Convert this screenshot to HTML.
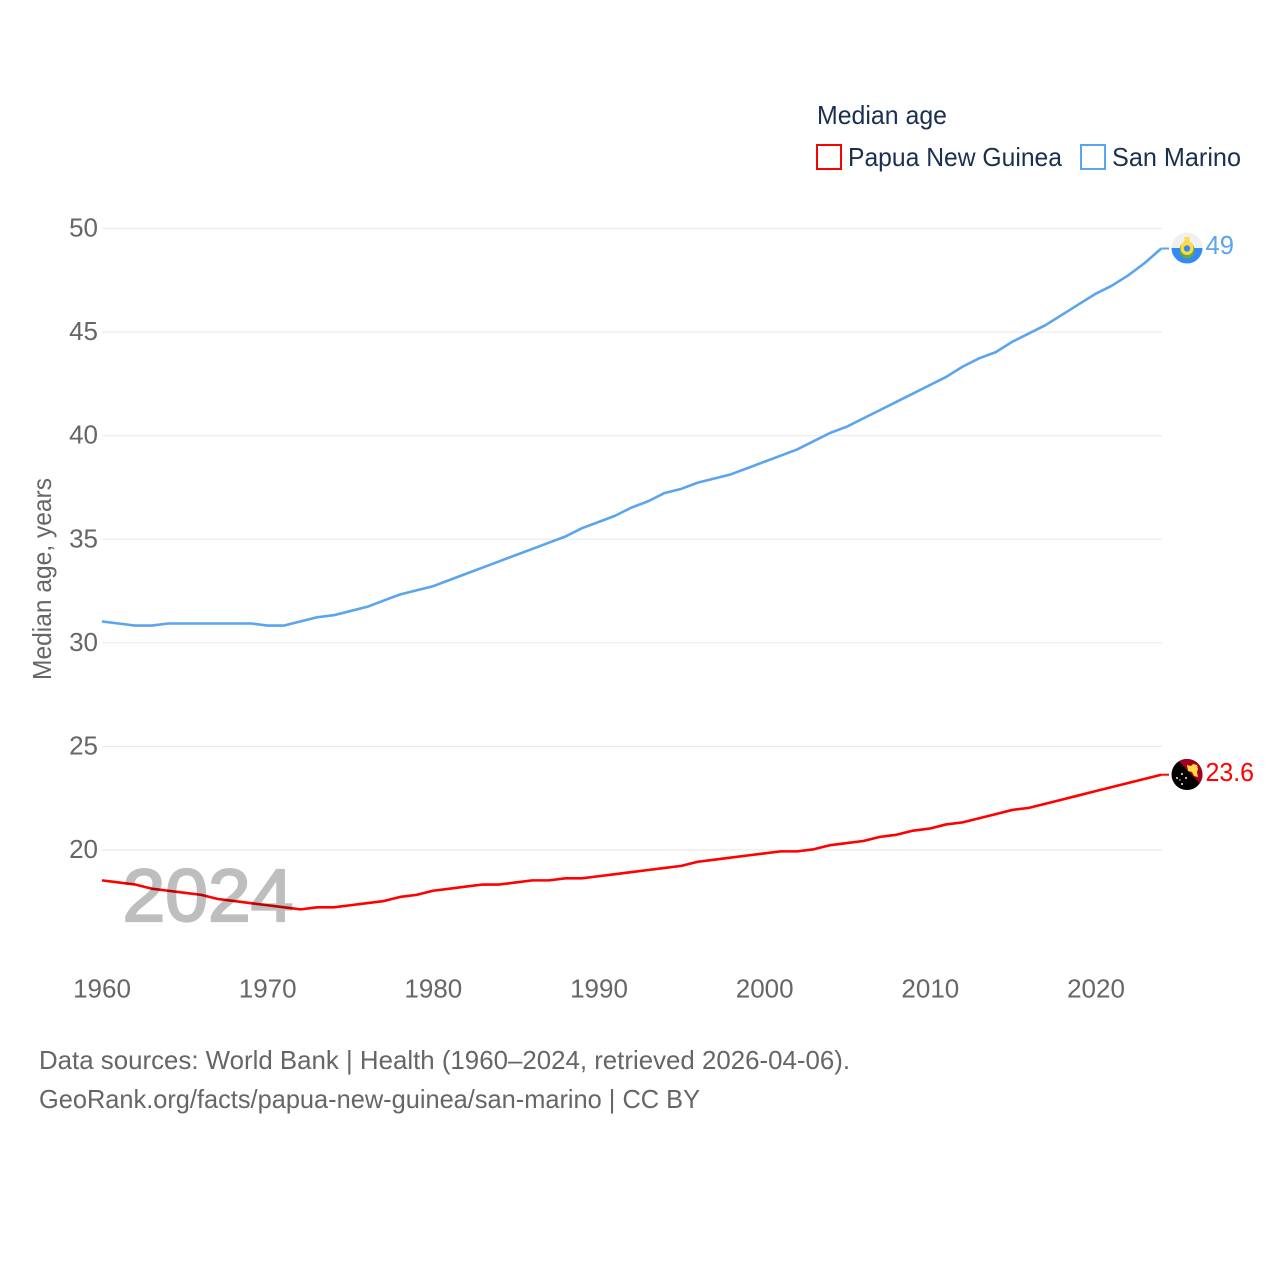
<!DOCTYPE html>
<html lang="en">
<head>
<meta charset="utf-8">
<title>Median age: Papua New Guinea and San Marino</title>
<style>
html,body{margin:0;padding:0;background:#fff;width:1280px;height:1280px;overflow:hidden}
svg{display:block}
text{font-family:"Liberation Sans",sans-serif}
.tick{font-size:26px;fill:#666}
.legend{font-size:26px;fill:#1a3050}
.foot{font-size:26px;fill:#666}
</style>
</head>
<body>
<svg id="chart" xmlns="http://www.w3.org/2000/svg" width="1280" height="1280" viewBox="0 0 1280 1280">
  <g id="grid"></g>
  <g id="yticks"></g>
  <g id="xticks"></g>
  <text transform="translate(51,680) rotate(-90)" font-size="26" fill="#666" textLength="202" lengthAdjust="spacingAndGlyphs">Median age, years</text>

  <g id="series"></g>

  <text x="122.5" y="921" font-size="74" fill="#000" stroke="#000" stroke-width="2.2" opacity="0.25" textLength="171" lengthAdjust="spacingAndGlyphs">2024</text>

  <text class="legend" x="817" y="124" textLength="130" lengthAdjust="spacingAndGlyphs">Median age</text>
  <g>
    <rect x="817" y="145" width="24" height="24" fill="#fff" stroke="#ff0000" stroke-width="2"/>
    <text class="legend" x="848" y="166" textLength="214" lengthAdjust="spacingAndGlyphs">Papua New Guinea</text>
  </g>
  <g>
    <rect x="1081" y="145" width="24" height="24" fill="#fff" stroke="#5ba4ee" stroke-width="2"/>
    <text class="legend" x="1112" y="166" textLength="129" lengthAdjust="spacingAndGlyphs">San Marino</text>
  </g>

  <defs>
    <clipPath id="clip-sm"><circle cx="1187" cy="248" r="15.5"/></clipPath>
    <clipPath id="clip-pg"><circle cx="1187" cy="774.5" r="15.5"/></clipPath>
  </defs>
  <g clip-path="url(#clip-sm)">
    <rect x="1171" y="232" width="32" height="16" fill="#f0f0f0"/>
    <rect x="1171" y="248" width="32" height="16" fill="#338af3"/>
    <ellipse cx="1187" cy="250" rx="7.5" ry="8.5" fill="#6da544"/>
    <ellipse cx="1187" cy="248" rx="6.5" ry="7" fill="#ffda44"/>
    <circle cx="1187" cy="248.5" r="3.2" fill="#338af3"/>
    <rect x="1184.5" y="237" width="5" height="5" fill="#ffda44"/>
  </g>
  <g clip-path="url(#clip-pg)">
    <rect x="1171" y="758" width="32" height="33" fill="#000"/>
    <polygon points="1176,758 1204,758 1204,788" fill="#a2001d"/>
    <polygon points="1187,765 1191,766 1193,764 1197,765 1198,769 1197,772 1198,777 1194,776 1192,772 1188,771" fill="#ffda44"/>
    <circle cx="1182" cy="774" r="1" fill="#f0f0f0"/>
    <circle cx="1177" cy="778" r="1" fill="#f0f0f0"/>
    <circle cx="1186" cy="778" r="1" fill="#f0f0f0"/>
    <circle cx="1182" cy="784" r="1" fill="#f0f0f0"/>
    <circle cx="1180" cy="780" r="0.7" fill="#f0f0f0"/>
  </g>

  <text id="label-sm" x="1205.5" y="254" font-size="26" fill="#5ba4ee" textLength="28.5" lengthAdjust="spacingAndGlyphs"></text>
  <text id="label-pg" x="1205.5" y="781" font-size="26" fill="#ff0000" textLength="48.5" lengthAdjust="spacingAndGlyphs"></text>

  <text class="foot" x="39" y="1069" textLength="811" lengthAdjust="spacingAndGlyphs">Data sources: World Bank | Health (1960–2024, retrieved 2026-04-06).</text>
  <text class="foot" x="39" y="1108" textLength="661" lengthAdjust="spacingAndGlyphs">GeoRank.org/facts/papua-new-guinea/san-marino | CC BY</text>
</svg>

<script>
const startYear = 1960;
const xTickYears = [1960, 1970, 1980, 1990, 2000, 2010, 2020];
const yTickValues = [20, 25, 30, 35, 40, 45, 50];
const papuaNewGuinea = [18.5,18.4,18.3,18.1,18.0,17.9,17.8,17.6,17.5,17.4,17.3,17.2,17.1,17.2,17.2,17.3,17.4,17.5,17.7,17.8,18.0,18.1,18.2,18.3,18.3,18.4,18.5,18.5,18.6,18.6,18.7,18.8,18.9,19.0,19.1,19.2,19.4,19.5,19.6,19.7,19.8,19.9,19.9,20.0,20.2,20.3,20.4,20.6,20.7,20.9,21.0,21.2,21.3,21.5,21.7,21.9,22.0,22.2,22.4,22.6,22.8,23.0,23.2,23.4,23.6];
const sanMarino = [31.0,30.9,30.8,30.8,30.9,30.9,30.9,30.9,30.9,30.9,30.8,30.8,31.0,31.2,31.3,31.5,31.7,32.0,32.3,32.5,32.7,33.0,33.3,33.6,33.9,34.2,34.5,34.8,35.1,35.5,35.8,36.1,36.5,36.8,37.2,37.4,37.7,37.9,38.1,38.4,38.7,39.0,39.3,39.7,40.1,40.4,40.8,41.2,41.6,42.0,42.4,42.8,43.3,43.7,44.0,44.5,44.9,45.3,45.8,46.3,46.8,47.2,47.7,48.3,49.0];
const papuaEndLabel = "23.6";
const sanMarinoEndLabel = "49";

const NS = "http://www.w3.org/2000/svg";
function xScale(year) { return 102 + (year - 1960) * (1096 - 102) / 60; }
function yScale(value) { return 850 - (value - 20) * (850 - 228.5) / 30; }
function lineX(year) { return xScale(year) - (year - 1960) * 1 / 64; }
function lineY(value) { return yScale(value) - 0.7; }

const gridGroup = document.getElementById("grid");
const yGroup = document.getElementById("yticks");
yTickValues.forEach(function (v) {
  const line = document.createElementNS(NS, "line");
  
  
  line.setAttribute("x1", 102);
  line.setAttribute("x2", 1162);
  line.setAttribute("y1", yScale(v));
  line.setAttribute("y2", yScale(v));
  line.setAttribute("stroke", "#ebebeb");
  line.setAttribute("stroke-width", 1.2);
  gridGroup.appendChild(line);

  const label = document.createElementNS(NS, "text");
  
  
  label.setAttribute("class", "tick");
  label.setAttribute("x", 98);
  label.setAttribute("y", yScale(v) + 8);
  label.setAttribute("text-anchor", "end");
  label.textContent = String(v);
  yGroup.appendChild(label);
});

const xGroup = document.getElementById("xticks");
xTickYears.forEach(function (yr) {
  const label = document.createElementNS(NS, "text");
  
  
  label.setAttribute("class", "tick");
  label.setAttribute("x", xScale(yr));
  label.setAttribute("y", 997.5);
  label.setAttribute("text-anchor", "middle");
  label.textContent = String(yr);
  xGroup.appendChild(label);
});

function pathFor(values) {
  return values.map(function (v, i) {
    return (i ? "L" : "M") + lineX(startYear + i).toFixed(2) + " " + lineY(v).toFixed(2);
  }).join(" ");
}

const seriesGroup = document.getElementById("series");

const pgLine = document.createElementNS(NS, "path");


pgLine.setAttribute("d", pathFor(papuaNewGuinea));
pgLine.setAttribute("fill", "none");
pgLine.setAttribute("stroke", "#ff0000");
pgLine.setAttribute("stroke-width", 2.6);
pgLine.setAttribute("stroke-linejoin", "round");
seriesGroup.appendChild(pgLine);

const smLine = document.createElementNS(NS, "path");


smLine.setAttribute("d", pathFor(sanMarino));
smLine.setAttribute("fill", "none");
smLine.setAttribute("stroke", "#5ba4ee");
smLine.setAttribute("stroke-width", 2.6);
smLine.setAttribute("stroke-linejoin", "round");
seriesGroup.appendChild(smLine);

const pgLast = papuaNewGuinea[papuaNewGuinea.length - 1];
const pgConnector = document.createElementNS(NS, "line");


pgConnector.setAttribute("x1", lineX(2024));
pgConnector.setAttribute("x2", 1169);
pgConnector.setAttribute("y1", lineY(pgLast));
pgConnector.setAttribute("y2", lineY(pgLast));
pgConnector.setAttribute("stroke", "#ff0000");
pgConnector.setAttribute("stroke-width", 2);
seriesGroup.appendChild(pgConnector);

const smLast = sanMarino[sanMarino.length - 1];
const smConnector = document.createElementNS(NS, "line");


smConnector.setAttribute("x1", lineX(2024));
smConnector.setAttribute("x2", 1169);
smConnector.setAttribute("y1", lineY(smLast));
smConnector.setAttribute("y2", lineY(smLast));
smConnector.setAttribute("stroke", "#5ba4ee");
smConnector.setAttribute("stroke-width", 2);
seriesGroup.appendChild(smConnector);

document.getElementById("label-pg").textContent = papuaEndLabel;
document.getElementById("label-sm").textContent = sanMarinoEndLabel;
</script>
</body>
</html>
